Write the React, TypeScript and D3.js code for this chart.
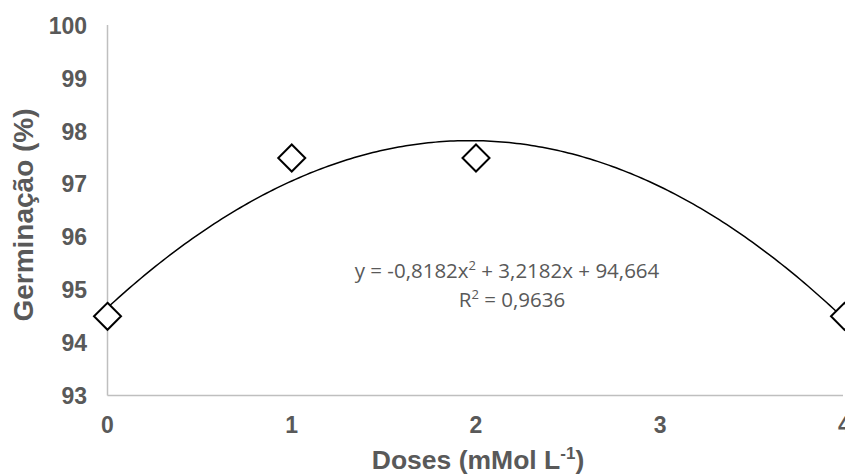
import React from 'react';
import * as d3 from 'd3';

// doses (mMol L-1) and germination (%)
const doses = [0, 1, 2, 4];
const germination = [94.5, 97.5, 97.5, 94.5];
const xTicks = [0, 1, 2, 3, 4];
const yTicks = [93, 94, 95, 96, 97, 98, 99, 100];
// polynomial trendline coefficients (a x^2 + b x + c)
const trendCoef = [-0.8182, 3.2182, 94.664];

const W = 845;
const H = 475;

export default function App() {
  const x = d3.scaleLinear().domain([0, 4]).range([107.5, 844.5]);
  const y = d3.scaleLinear().domain([93, 100]).range([395.5, 26]);

  const curveX = d3.range(0, 4.0001, 0.02);
  const trend = curveX.map((v) => [v, trendCoef[0] * v * v + trendCoef[1] * v + trendCoef[2]] as [number, number]);
  const line = d3
    .line<[number, number]>()
    .x((d) => x(d[0]))
    .y((d) => y(d[1]));

  const grey = '#595959';
  const sans = 'Liberation Sans, Arial, sans-serif';
  const tickFont = { fontFamily: sans, fontWeight: 700, fontSize: 23, fill: grey };
  const r = 13.5;

  return (
    <svg width={W} height={H} style={{ position: 'absolute', left: 0, top: 0 }}>
      <rect width={W} height={H} fill="#fff" />
      {/* axes */}
      <line x1={x(0)} x2={x(0)} y1={y(100) - 1} y2={y(93)} stroke="#bfbfbf" strokeWidth={1.5} />
      <line x1={x(0)} x2={843} y1={y(93)} y2={y(93)} stroke="#bfbfbf" strokeWidth={1.5} />

      {yTicks.map((t) => (
        <text key={t} x={87} y={y(t)} dy="0.35em" textAnchor="end" {...tickFont}>
          {t}
        </text>
      ))}
      {xTicks.map((t) => (
        <text key={t} x={x(t)} y={433} textAnchor="middle" {...tickFont}>
          {t}
        </text>
      ))}

      {/* trendline */}
      <path d={line(trend) ?? ''} fill="none" stroke="#000" strokeWidth={1.5} />

      {/* points */}
      {doses.map((d, i) => (
        <path
          key={i}
          d={`M${x(d)},${y(germination[i]) - r}L${x(d) + r},${y(germination[i])}L${x(d)},${y(germination[i]) + r}L${x(d) - r},${y(germination[i])}Z`}
          fill="#fff"
          stroke="#000"
          strokeWidth={2}
        />
      ))}

      {/* equation */}
      <text x={507} y={278} textAnchor="middle" fontFamily="Open Sans, sans-serif" fontSize={20.5} fill={grey}>
        y = -0,8182x<tspan dy={-8} fontSize={13}>2</tspan>
        <tspan dy={8}> + 3,2182x + 94,664</tspan>
      </text>
      <text x={512} y={307} textAnchor="middle" fontFamily="Open Sans, sans-serif" fontSize={20.5} fill={grey}>
        R<tspan dy={-8} fontSize={13}>2</tspan>
        <tspan dy={8}> = 0,9636</tspan>
      </text>

      {/* axis titles */}
      <text x={478} y={469} textAnchor="middle" fontFamily={sans} fontWeight={700} fontSize={26.5} fill={grey}>
        Doses (mMol L<tspan dy={-10} fontSize={17}>-1</tspan>
        <tspan dy={10}>)</tspan>
      </text>
      <text
        transform={`translate(33,215) rotate(-90)`}
        textAnchor="middle"
        fontFamily={sans}
        fontWeight={700}
        fontSize={28}
        fill={grey}
      >
        Germinação (%)
      </text>
    </svg>
  );
}
